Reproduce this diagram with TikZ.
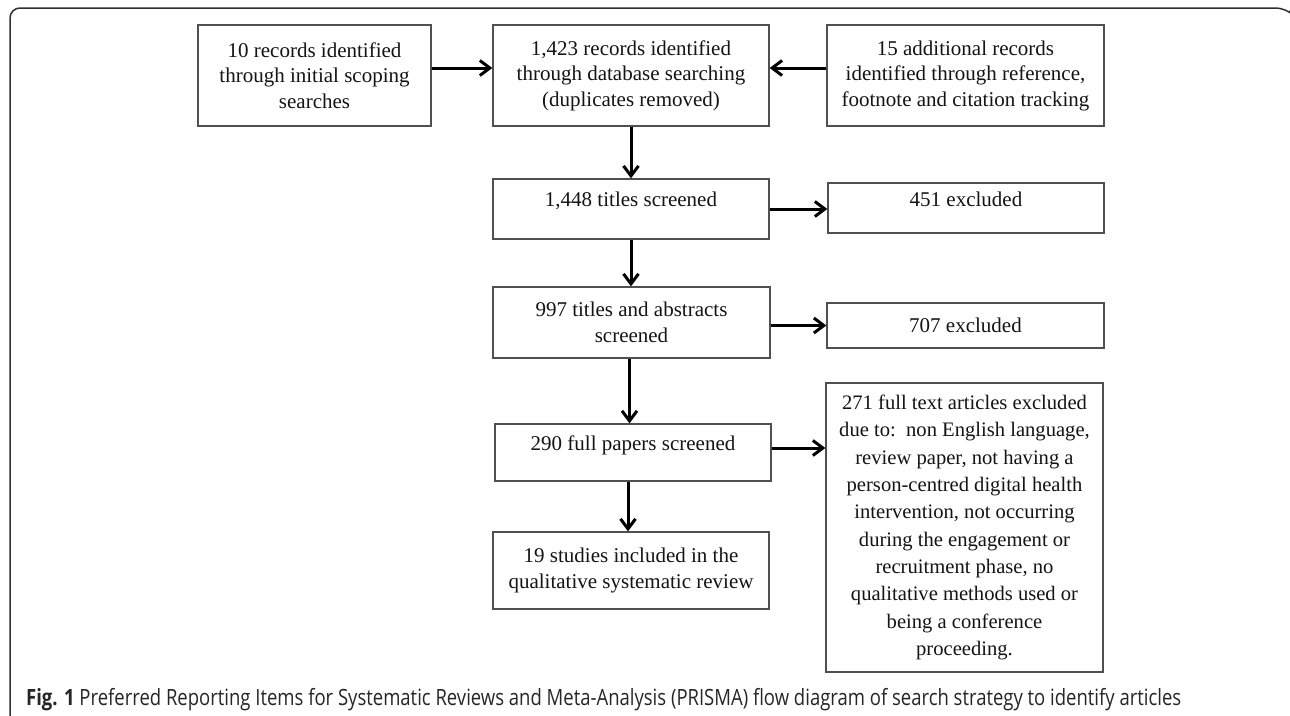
\documentclass[tikz,border=0pt]{standalone}
\usepackage{fontspec}
\setmainfont{Liberation Serif}
\newfontfamily\capfont{Open Sans}
\usetikzlibrary{arrows.meta}
\definecolor{boxgray}{HTML}{505050}
\definecolor{textcol}{HTML}{141414}
\definecolor{framecol}{HTML}{303030}
\begin{document}
\begin{tikzpicture}[x=1pt,y=-1pt,
  box/.style={draw=boxgray, line width=1.3pt, rectangle, inner sep=0pt,
    text=textcol, font=\fontsize{21}{25.5}\selectfont},
  mbox/.style={box, align=center},
  arr/.style={draw=black, line width=3pt, -{Straight Barb[length=10pt,width=15pt]}}]
\useasboundingbox (0,0) rectangle (1290,715);
\fill[white] (0,0) rectangle (1290,715);
% outer frame
\draw[framecol, line width=1.5pt] (10,716) [rounded corners=10pt] -- (10,8) -- (1286,8) [sharp corners] -- (1289,11) -- (1290,12);
% boxes
\node[mbox, minimum width=233, minimum height=101] (A) at (314.5,75.5) {10 records identified\\through initial scoping\\searches};
\node[mbox, minimum width=276, minimum height=101] (B) at (631,75.5) {1,423 records identified\\through database searching\\(duplicates removed)};
\node[mbox, minimum width=277, minimum height=101] (C) at (965.5,75.5) {15 additional records\\identified through reference,\\footnote and citation tracking};
\node[box, minimum width=276, text height=27pt, text depth=33pt, anchor=base] (D) at (631,206) {1,448 titles screened};
\node[box, minimum width=276, text height=23pt, text depth=27pt, anchor=base] (E) at (966,206) {451 excluded};
\node[mbox, minimum width=277, minimum height=71] (F) at (631.5,322.5) {997 titles and abstracts\\screened};
\node[box, minimum width=277, minimum height=45] (G) at (965.5,325.5) {707 excluded};
\node[box, minimum width=276, text height=26pt, text depth=31pt, anchor=base] (H) at (633,450) {290 full papers screened};
\node[mbox, minimum width=276, minimum height=77] (I) at (631,570.5) {19 studies included in the\\qualitative systematic review};
\node[mbox, minimum width=277, minimum height=289, font=\fontsize{20.6}{27.3}\selectfont] (J) at (964.5,527.5) {271 full text articles excluded\\due to:\ \ non English language,\\review paper, not having a\\person-centred digital health\\intervention, not occurring\\during the engagement or\\recruitment phase, no\\qualitative methods used or\\being a conference\\proceeding.};
% connectors
\draw[arr] ([yshift=7.5pt]A.east) -- ([yshift=7.5pt]B.west);
\draw[arr] ([yshift=7.5pt]C.west) -- ([yshift=7.5pt]B.east);
\draw[arr] (B.south) -- (D.north);
\draw[arr] (D.east) -- (D.east -| E.west);
\draw[arr] (D.south) -- (D.south |- F.north);
\draw[arr] (G.west -| F.east) -- (G.west);
\draw[arr] ([xshift=-2pt]F.south) -- ([xshift=-2pt]F.south |- H.north);
\draw[arr] ([yshift=4.5pt]H.east) -- ([yshift=4.5pt]H.east -| J.west);
\draw[arr] ([xshift=-5pt]H.south) -- ([xshift=-5pt]H.south |- I.north);
% caption
\node[anchor=base west, inner sep=0pt, text=black!85] (cap) at (26,705) {\resizebox{1155pt}{\height}{\capfont\fontsize{22.4}{26}\selectfont\textbf{Fig. 1} Preferred Reporting Items for Systematic Reviews and Meta-Analysis (PRISMA) flow diagram of search strategy to identify articles}};
\end{tikzpicture}
\end{document}
